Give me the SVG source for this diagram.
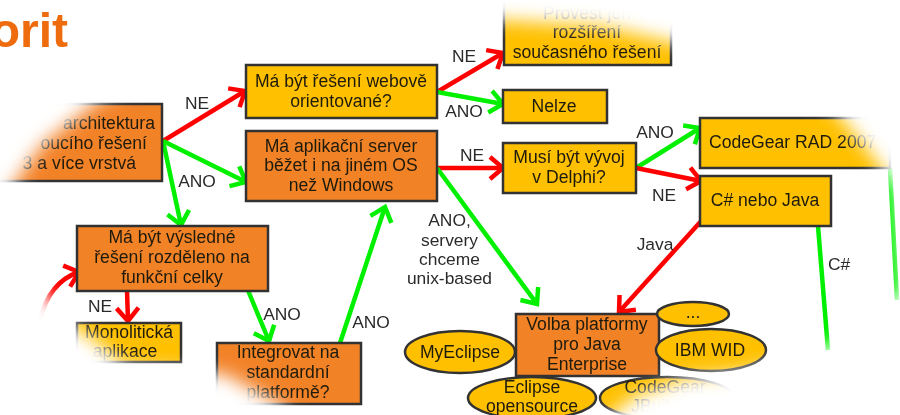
<svg xmlns="http://www.w3.org/2000/svg" width="900" height="415" viewBox="0 0 900 415">
<style>
text{font-family:"Liberation Sans",Arial,sans-serif;font-size:17.6px;fill:#1f1a0c;text-anchor:middle}
.l{font-size:17.4px;fill:#2b2b2b}
.o{fill:#F28228;stroke:#333;stroke-width:2.5}
.y{fill:#FFC000;stroke:#333;stroke-width:2.5}
.r{fill:none;stroke:#FF0000;stroke-width:4.5;marker-end:url(#mr)}
.g{fill:none;stroke:#00F000;stroke-width:4.5;marker-end:url(#mg)}
.n{marker-end:none}
</style>
<defs>
<marker id="mr" markerUnits="userSpaceOnUse" markerWidth="40" markerHeight="40" refX="20" refY="20" orient="auto" viewBox="0 0 40 40"><path d="M7 9L20 20L7 31" fill="none" stroke="#FF0000" stroke-width="4.5"/></marker>
<marker id="mg" markerUnits="userSpaceOnUse" markerWidth="40" markerHeight="40" refX="20" refY="20" orient="auto" viewBox="0 0 40 40"><path d="M7 9L20 20L7 31" fill="none" stroke="#00F000" stroke-width="4.5"/></marker>
<filter id="soft" x="0" y="0" width="100%" height="100%" filterUnits="userSpaceOnUse"><feGaussianBlur stdDeviation="0.65"/></filter>
<filter id="fade" x="-100" y="-100" width="1100" height="615" filterUnits="userSpaceOnUse"><feGaussianBlur stdDeviation="9"/></filter>
</defs>
<rect width="900" height="415" fill="#fff"/>
<g filter="url(#soft)">
<g id="connectors">
<path class="r" d="M163 141L245 91"/>
<path class="g" d="M163 141L246 182"/>
<path class="g" d="M163 141L181 225"/>
<path class="r" d="M40 320C46 295 58 279 79 272"/>
<path class="r" d="M127 291L128 321"/>
<path class="g" d="M247 288L269 341"/>
<path class="g" d="M340 343L385 207"/>
<path class="r" d="M437 92L503 53"/>
<path class="g" d="M437 92L503 104"/>
<path class="r" d="M437 168L503 168"/>
<path class="g" d="M437 168L537 304"/>
<path class="g" d="M636 168L700 128"/>
<path class="r" d="M636 168L701 181"/>
<path class="r" d="M703 219L619 312"/>
<path class="g n" d="M818 226L828 350"/>
<path class="g n" d="M890 168L897 300"/>
</g>
<g id="n1"><rect class="o" x="-10" y="104" width="172" height="77"/><text x="155" y="129" style="text-anchor:end">architektura</text><text x="147" y="149" style="text-anchor:end">oucího řešení</text><text x="136" y="169" style="text-anchor:end">3 a více vrstvá</text></g>
<g id="n2"><rect class="y" x="246" y="65" width="191" height="53"/><text x="341" y="87">Má být řešení webově</text><text x="341" y="107">orientované?</text></g>
<g id="n3"><rect class="o" x="246" y="131" width="191" height="70"/><text x="341" y="152">Má aplikační server</text><text x="341" y="171">běžet i na jiném OS</text><text x="341" y="191">než Windows</text></g>
<g id="n4"><rect class="y" x="504" y="-6" width="167" height="71"/><text x="587" y="19">Provést jen</text><text x="587" y="38">rozšíření</text><text x="587" y="58">současného řešení</text></g>
<g id="n5"><rect class="y" x="503" y="90" width="104" height="33"/><text x="554" y="112">Nelze</text></g>
<g id="n6"><rect class="y" x="503" y="143" width="133" height="50"/><text x="569" y="163">Musí být vývoj</text><text x="569" y="183">v Delphi?</text></g>
<g id="n7"><rect class="y" x="700" y="118" width="190" height="50"/><text x="709" y="148" style="text-anchor:start">CodeGear RAD 2007</text></g>
<g id="n8"><rect class="y" x="700" y="176" width="131" height="50"/><text x="765" y="206">C# nebo Java</text></g>
<g id="n9"><rect class="o" x="77" y="226" width="191" height="65"/><text x="172" y="243">Má být výsledné</text><text x="172" y="263">řešení rozděleno na</text><text x="172" y="283">funkční celky</text></g>
<g id="n10"><rect class="y" x="77" y="323" width="104" height="39"/><text x="129" y="338">Monolitická</text><text x="125" y="357">aplikace</text></g>
<g id="n11"><rect class="o" x="217" y="343" width="144" height="61"/><text x="288" y="358">Integrovat na</text><text x="288" y="378">standardní</text><text x="288" y="398">platformě?</text></g>
<g id="n15"><ellipse class="y" cx="460" cy="352" rx="55" ry="21"/><text x="460" y="358">MyEclipse</text></g>
<g id="n16"><ellipse class="y" cx="532" cy="398" rx="64" ry="21"/><text x="532" y="393">Eclipse</text><text x="532" y="412">opensource</text></g>
<g id="n17"><ellipse class="y" cx="667" cy="398" rx="67" ry="21"/><text x="665" y="393">CodeGear</text><text x="663" y="412">JBuilder</text></g>
<g id="n12"><rect class="o" x="516" y="314" width="143" height="62"/><text x="587" y="330">Volba platformy</text><text x="587" y="350">pro Java</text><text x="587" y="370">Enterprise</text></g>
<g id="n13"><ellipse class="y" cx="693" cy="314" rx="36" ry="12"/><text x="693" y="318">...</text></g>
<g id="n14"><ellipse class="y" cx="711" cy="350" rx="55" ry="21"/><text x="710" y="356">IBM WID</text></g>
<g id="labels">
<text class="l" x="197" y="109">NE</text>
<text class="l" x="197" y="187">ANO</text>
<text class="l" x="464" y="62">NE</text>
<text class="l" x="464" y="117">ANO</text>
<text class="l" x="472" y="161">NE</text>
<text class="l" x="655" y="138">ANO</text>
<text class="l" x="664" y="201">NE</text>
<text class="l" x="449.5" y="226">ANO,</text>
<text class="l" x="449.5" y="246">servery</text>
<text class="l" x="449.5" y="265">chceme</text>
<text class="l" x="449.5" y="284">unix-based</text>
<text class="l" x="655" y="250">Java</text>
<text class="l" x="839" y="270">C#</text>
<text class="l" x="100" y="312">NE</text>
<text class="l" x="282" y="320">ANO</text>
<text class="l" x="371" y="328">ANO</text>
</g>
<path fill="#fff" fill-rule="evenodd" filter="url(#fade)" d="M-100 -100H1000V515H-100Z M6 195L42 145L95 103L200 50L400 12L500 20L600 26L672 42L780 76L835 110L872 155L897 190L902 290L830 347L745 372L685 378L635 396L600 425L590 445L300 445L285 408L225 374L125 366L97 342L70 325L35 280Z"/>
<text x="68" y="47" style="font-size:48px;font-weight:bold;fill:#EE6C0F;text-anchor:end">orit</text>
</g>
</svg>
